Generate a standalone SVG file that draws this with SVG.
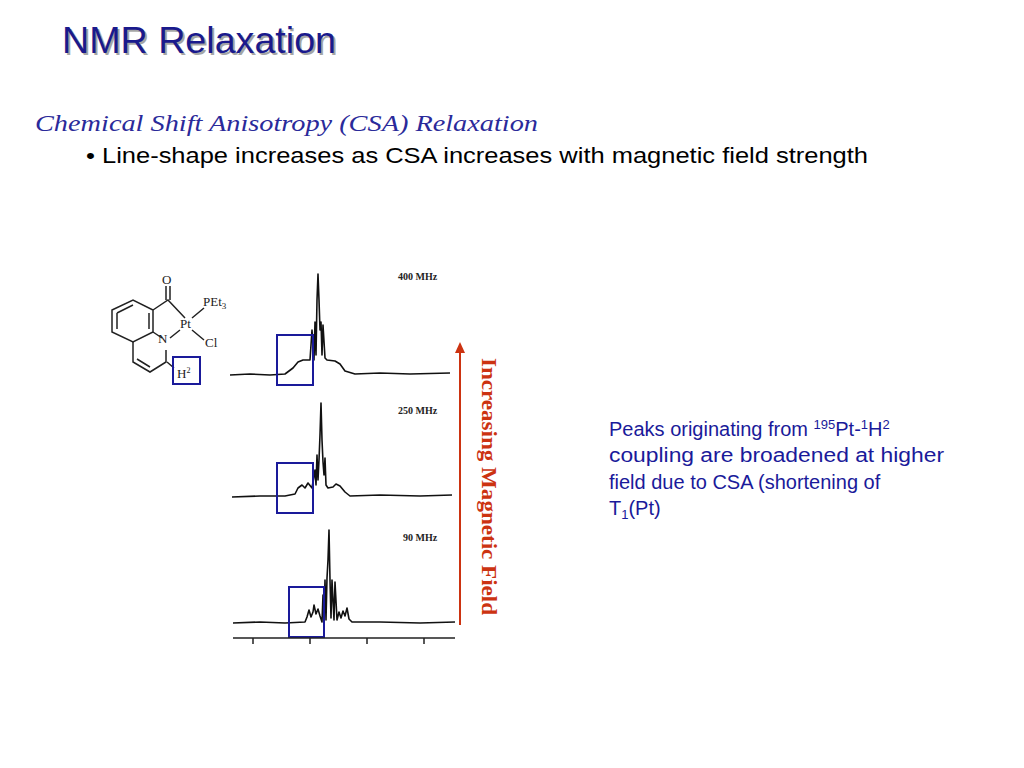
<svg xmlns="http://www.w3.org/2000/svg" width="1024" height="768" viewBox="0 0 1024 768">
<style>
.sp{fill:none;stroke:#111;stroke-width:1.6;stroke-linejoin:round}
.bx{fill:none;stroke:#1a1a9a;stroke-width:2}
.mol{fill:none;stroke:#222;stroke-width:1.5}
.ml{font-family:'Liberation Serif',serif;font-size:13px;fill:#222}
.mhz{font-family:'Liberation Serif',serif;font-size:10px;font-weight:bold;fill:#222}
</style>
<rect width="1024" height="768" fill="#fff"/>
<text x="62" y="53" font-family="Liberation Sans,Arial,sans-serif" font-size="37" fill="#000" opacity="0.35" transform="translate(2,2)" textLength="274" lengthAdjust="spacingAndGlyphs">NMR Relaxation</text>
<text x="62" y="53" font-family="Liberation Sans,Arial,sans-serif" font-size="37" fill="#1a1a8c" textLength="274" lengthAdjust="spacingAndGlyphs">NMR Relaxation</text>
<text x="35" y="131" font-family="Liberation Serif,serif" font-style="italic" font-size="24" fill="#2a2a9a" textLength="503" lengthAdjust="spacingAndGlyphs">Chemical Shift Anisotropy (CSA) Relaxation</text>
<text x="86" y="163" font-family="Liberation Sans,Arial,sans-serif" font-size="22" fill="#000" textLength="782" lengthAdjust="spacingAndGlyphs">• Line-shape increases as CSA increases with magnetic field strength</text>
<g id="molecule">
<path class="mol" d="M112,310 L133,300 L153,310 L153,332 L133,342 L112,332 Z M117,313 L133,305 M117,329 L117,313 M149,313 L149,329"/>
<path class="mol" d="M133,342 L133,362 L150,372 L166,362 L166,350 M153,332 L162,338 M137,359 L150,367"/>
<path class="mol" d="M153,310 L168,300 L185,318 M166,300 L166,286 M170,300 L170,286 M170,338 L180,330 M192,318 L204,308 M192,330 L204,340 M167,362 L174,368"/>
<text class="ml" x="162" y="284">O</text>
<text class="ml" x="180" y="328">Pt</text>
<text class="ml" x="203" y="306">PEt<tspan font-size="9" dy="3">3</tspan></text>
<text class="ml" x="205" y="347">Cl</text>
<text class="ml" x="158" y="343">N</text>
<text class="ml" x="177" y="378">H<tspan font-size="8" dy="-5">2</tspan></text>
<rect class="bx" x="173" y="357" width="27" height="27"/>
</g>
<g id="spectra">
<text class="mhz" x="398" y="280">400 MHz</text>
<path class="sp" d="M230,375 L250,374 L270,375 L285,374 L293,368 L298,362 L303,360 L310,360 L312,330 L314,360 L315,322 L316,355 L317,300 L318,274 L319,300 L320,330 L321,322 L322,355 L323,325 L325,358 L327,360 L335,361 L340,364 L345,371 L355,374 L380,373 L410,374 L450,373"/>
<rect class="bx" x="277" y="335" width="36" height="50"/>
<text class="mhz" x="398" y="414">250 MHz</text>
<path class="sp" d="M232,497 L260,496 L285,496 L295,494 L298,488 L302,485 L305,488 L308,483 L312,488 L315,470 L316,485 L317,455 L318,480 L319,460 L320,435 L321,403 L322,440 L323,462 L324,475 L325,458 L326,485 L328,488 L333,487 L336,484 L340,486 L345,492 L350,496 L380,495 L420,496 L452,495"/>
<rect class="bx" x="277" y="463" width="36" height="50"/>
<text class="mhz" x="403" y="541">90 MHz</text>
<path class="sp" d="M233,623 L260,622 L285,623 L305,622 L307,617 L309,610 L311,617 L313,612 L314,605 L316,614 L318,609 L320,616 L322,622 L323,595 L324,618 L325,580 L326,620 L327,578 L328,560 L329,530 L330,580 L331,618 L332,580 L334,620 L335,582 L337,620 L339,612 L341,618 L343,611 L345,616 L347,608 L349,619 L352,622 L380,622 L420,623 L455,622"/>
<rect class="bx" x="289" y="587" width="35" height="50"/>
<path class="mol" d="M233,638 L455,638 M253,638 L253,644 M310,638 L310,644 M367,638 L367,644 M424,638 L424,644"/>
</g>
<g id="arrow">
<line x1="460" y1="625" x2="460" y2="350" stroke="#cc3311" stroke-width="2"/>
<path d="M455,353 L460,342 L465,353 Z" fill="#cc3311"/>
<text transform="translate(482,358) rotate(90)" font-family="Liberation Serif,serif" font-weight="bold" font-size="21" fill="#cc3311" textLength="257" lengthAdjust="spacingAndGlyphs">Increasing Magnetic Field</text>
</g>
<g id="note" font-family="Liberation Sans,Arial,sans-serif" font-size="20" fill="#1a1a9a">
<text x="609" y="436">Peaks originating from <tspan font-size="13" dy="-7">195</tspan><tspan dy="7">Pt-</tspan><tspan font-size="13" dy="-7">1</tspan><tspan dy="7">H</tspan><tspan font-size="13" dy="-7">2</tspan></text>
<text x="609" y="462" textLength="335" lengthAdjust="spacingAndGlyphs">coupling are broadened at higher</text>
<text x="609" y="489">field due to CSA (shortening of</text>
<text x="609" y="515">T<tspan font-size="13" dy="4">1</tspan><tspan dy="-4">(Pt)</tspan></text>
</g>
</svg>
